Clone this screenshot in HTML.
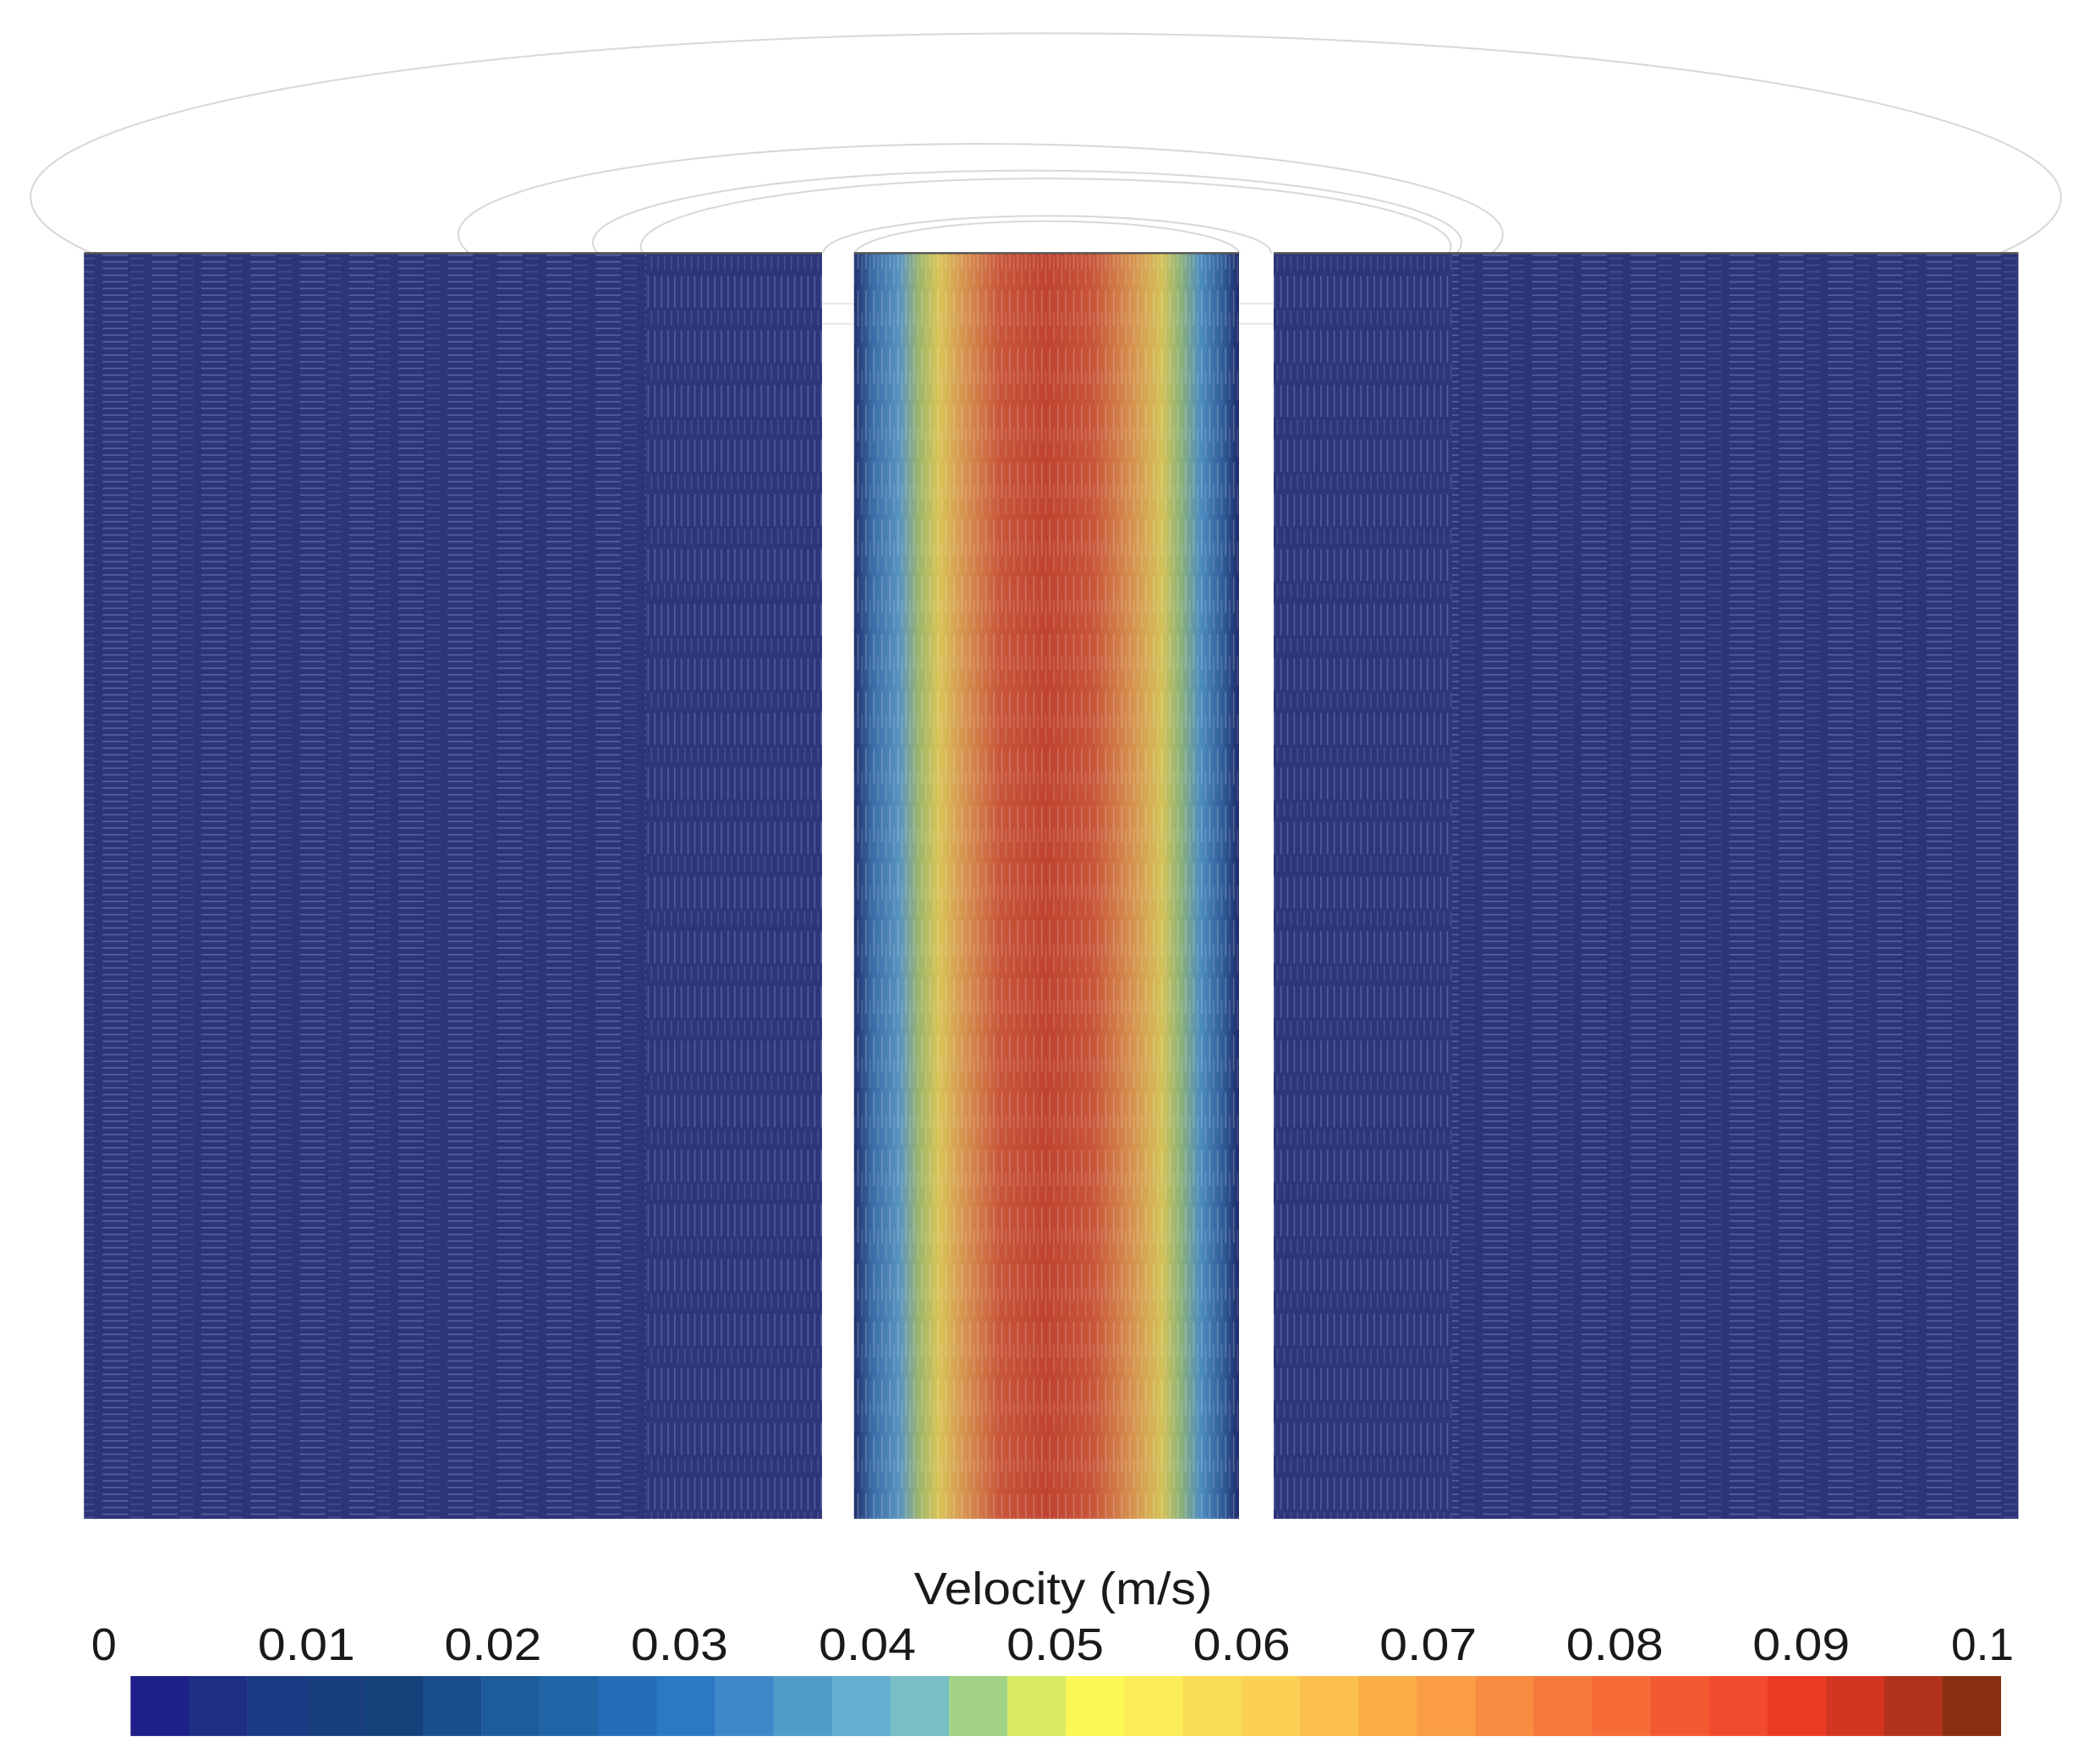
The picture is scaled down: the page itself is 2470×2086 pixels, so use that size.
<!DOCTYPE html>
<html><head><meta charset="utf-8"><style>html,body{margin:0;padding:0;background:#fff;}svg{display:block}</style></head>
<body>
<svg width="2470" height="2086" viewBox="0 0 1568 1324" preserveAspectRatio="none" xmlns="http://www.w3.org/2000/svg">
<defs>
<pattern id="hz" width="37" height="5" patternUnits="userSpaceOnUse">
<rect width="37" height="5" fill="#2d3477"/>
<line x1="3" y1="1.5" x2="22" y2="1.5" stroke="#6d76b6" stroke-width="1" opacity="0.7"/>
<line x1="24" y1="4" x2="34" y2="4" stroke="#5660a0" stroke-width="1" opacity="0.6"/>
</pattern>
<pattern id="vt" width="5" height="41" patternUnits="userSpaceOnUse">
<rect width="5" height="41" fill="#2e3579"/>
<line x1="1.5" y1="2" x2="1.5" y2="26" stroke="#6b74b4" stroke-width="1" opacity="0.65"/>
<line x1="4" y1="28" x2="4" y2="39" stroke="#5660a0" stroke-width="1" opacity="0.6"/>
</pattern>
<pattern id="cv" width="6" height="43" patternUnits="userSpaceOnUse">
<line x1="2" y1="3" x2="2" y2="30" stroke="#fff" stroke-width="1" opacity="0.22"/>
<line x1="5" y1="20" x2="5" y2="42" stroke="#fff" stroke-width="1" opacity="0.15"/>
</pattern>
<linearGradient id="cg" x1="0" x2="1" y1="0" y2="0">
<stop offset="0" stop-color="#22306e"/>
<stop offset="0.05" stop-color="#3b6ea8"/>
<stop offset="0.12" stop-color="#5a95c0"/>
<stop offset="0.17" stop-color="#9fb56a"/>
<stop offset="0.22" stop-color="#d9c457"/>
<stop offset="0.29" stop-color="#d6904f"/>
<stop offset="0.38" stop-color="#c8553a"/>
<stop offset="0.5" stop-color="#bf442f"/>
<stop offset="0.62" stop-color="#c8553a"/>
<stop offset="0.72" stop-color="#d6904f"/>
<stop offset="0.8" stop-color="#d4c258"/>
<stop offset="0.85" stop-color="#8bb07a"/>
<stop offset="0.9" stop-color="#4d8cc0"/>
<stop offset="0.96" stop-color="#2f5c96"/>
<stop offset="1" stop-color="#1f2a6a"/>
</linearGradient>
<clipPath id="top"><rect x="0" y="0" width="1568" height="190"/></clipPath>
</defs>

<g clip-path="url(#top)" fill="none" stroke="#d8d8d8" stroke-width="1.3">
<ellipse cx="785" cy="148" rx="762" ry="123"/>
<ellipse cx="736" cy="176" rx="392" ry="68"/>
<ellipse cx="771" cy="182" rx="326" ry="54"/>
<ellipse cx="785" cy="185" rx="304" ry="51"/>
<ellipse cx="786" cy="190" rx="168" ry="28"/>
<ellipse cx="786" cy="192" rx="145" ry="26"/>
</g>
<g stroke="#e6e6e6" stroke-width="1.2">
<line x1="617" y1="228" x2="641" y2="228"/><line x1="617" y1="243" x2="641" y2="243"/>
<line x1="930" y1="228" x2="956" y2="228"/><line x1="930" y1="243" x2="956" y2="243"/>
</g>

<rect x="63" y="190" width="422" height="950" fill="url(#hz)"/>
<rect x="485" y="190" width="132" height="950" fill="url(#vt)"/>
<rect x="1090" y="190" width="425" height="950" fill="url(#hz)"/>
<rect x="956" y="190" width="134" height="950" fill="url(#vt)"/>
<rect x="641" y="190" width="289" height="950" fill="url(#cg)"/>
<rect x="641" y="190" width="289" height="950" fill="url(#cv)"/>
<g stroke="#555" stroke-width="1.5">
<line x1="63" y1="190" x2="617" y2="190"/><line x1="641" y1="190" x2="930" y2="190"/><line x1="956" y1="190" x2="1515" y2="190"/>
</g>

<g>
<rect x="98" y="1258" width="44" height="45" fill="#1f1f8a"/>
<rect x="141.9" y="1258" width="44" height="45" fill="#1d2e85"/>
<rect x="185.8" y="1258" width="44" height="45" fill="#1b3a84"/>
<rect x="229.7" y="1258" width="44" height="45" fill="#183e7e"/>
<rect x="273.5" y="1258" width="44" height="45" fill="#16427c"/>
<rect x="317.4" y="1258" width="44" height="45" fill="#184f8b"/>
<rect x="361.3" y="1258" width="44" height="45" fill="#1c5c9b"/>
<rect x="405.2" y="1258" width="44" height="45" fill="#2065a8"/>
<rect x="449" y="1258" width="44" height="45" fill="#246eb8"/>
<rect x="492.9" y="1258" width="44" height="45" fill="#2b78c4"/>
<rect x="536.8" y="1258" width="44" height="45" fill="#3d88c8"/>
<rect x="580.7" y="1258" width="44" height="45" fill="#4f9ccb"/>
<rect x="624.5" y="1258" width="44" height="45" fill="#62afd0"/>
<rect x="668.4" y="1258" width="44" height="45" fill="#77bfc4"/>
<rect x="712.3" y="1258" width="44" height="45" fill="#a2d384"/>
<rect x="756.2" y="1258" width="44" height="45" fill="#d8ea60"/>
<rect x="800" y="1258" width="44" height="45" fill="#fbf855"/>
<rect x="843.9" y="1258" width="44" height="45" fill="#fcec58"/>
<rect x="887.8" y="1258" width="44" height="45" fill="#fbdc55"/>
<rect x="931.7" y="1258" width="44" height="45" fill="#fcd054"/>
<rect x="975.5" y="1258" width="44" height="45" fill="#fbbf4c"/>
<rect x="1019.4" y="1258" width="44" height="45" fill="#fbae47"/>
<rect x="1063.3" y="1258" width="44" height="45" fill="#fa9d45"/>
<rect x="1107.2" y="1258" width="44" height="45" fill="#f98b40"/>
<rect x="1151" y="1258" width="44" height="45" fill="#f8793c"/>
<rect x="1194.9" y="1258" width="44" height="45" fill="#f76b38"/>
<rect x="1238.8" y="1258" width="44" height="45" fill="#f45a32"/>
<rect x="1282.7" y="1258" width="44" height="45" fill="#f24a2c"/>
<rect x="1326.5" y="1258" width="44" height="45" fill="#ec3b22"/>
<rect x="1370.4" y="1258" width="44" height="45" fill="#d33520"/>
<rect x="1414.3" y="1258" width="44" height="45" fill="#b3321c"/>
<rect x="1458.2" y="1258" width="43.8" height="45" fill="#8a2e14"/>
</g>

<g font-family="Liberation Sans, sans-serif" fill="#1a1a1a" font-size="34" text-anchor="middle">
<text x="798" y="1204" textLength="224" lengthAdjust="spacingAndGlyphs">Velocity (m/s)</text>
<text x="78" y="1246" textLength="19" lengthAdjust="spacingAndGlyphs">0</text>
<text x="230" y="1246" textLength="73" lengthAdjust="spacingAndGlyphs">0.01</text>
<text x="370" y="1246" textLength="73" lengthAdjust="spacingAndGlyphs">0.02</text>
<text x="510" y="1246" textLength="73" lengthAdjust="spacingAndGlyphs">0.03</text>
<text x="651" y="1246" textLength="73" lengthAdjust="spacingAndGlyphs">0.04</text>
<text x="792" y="1246" textLength="73" lengthAdjust="spacingAndGlyphs">0.05</text>
<text x="932" y="1246" textLength="73" lengthAdjust="spacingAndGlyphs">0.06</text>
<text x="1072" y="1246" textLength="73" lengthAdjust="spacingAndGlyphs">0.07</text>
<text x="1212" y="1246" textLength="73" lengthAdjust="spacingAndGlyphs">0.08</text>
<text x="1352" y="1246" textLength="73" lengthAdjust="spacingAndGlyphs">0.09</text>
<text x="1488" y="1246" textLength="47" lengthAdjust="spacingAndGlyphs">0.1</text>
</g>
</svg>
</body></html>
